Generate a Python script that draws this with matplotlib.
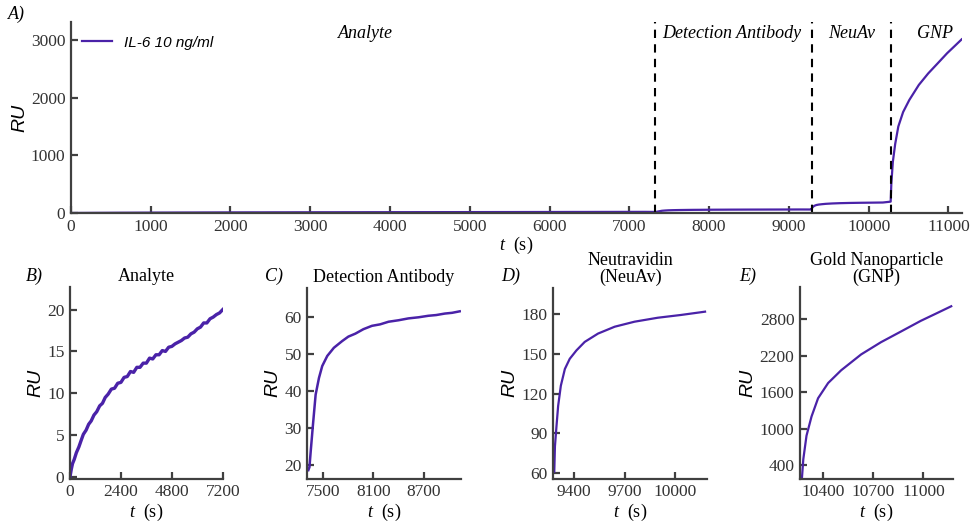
import numpy as np
import matplotlib.pyplot as plt

# Sensorgram segments (t in s, response in RU)
analyte_t = [0, 60, 120, 200, 300, 420, 530, 630, 760, 880, 1000, 1130, 1260, 1400, 1530,
             1660, 1800, 1950, 2100, 2250, 2400, 2550, 2700, 2850, 3000, 3150, 3300, 3450,
             3600, 3750, 3900, 4050, 4200, 4350, 4500, 4650, 4800, 4950, 5100, 5250, 5400,
             5550, 5700, 5850, 6000, 6150, 6300, 6450, 6600, 6750, 6900, 7050, 7200]
analyte_ru = [0.0, 0.9, 1.6, 2.1, 2.9, 3.6, 4.4, 5.1, 5.6, 6.3, 6.7, 7.4, 7.8, 8.5, 8.8,
              9.5, 9.9, 10.5, 10.6, 11.2, 11.3, 11.9, 12.0, 12.6, 12.5, 13.1, 13.1, 13.6,
              13.6, 14.2, 14.1, 14.6, 14.6, 15.1, 15.0, 15.5, 15.6, 15.9, 16.1, 16.3, 16.6,
              16.7, 17.1, 17.3, 17.7, 17.9, 18.4, 18.4, 18.9, 19.1, 19.4, 19.6, 20.0]

detect_t = [7322, 7335, 7350, 7377, 7409, 7449, 7488, 7548, 7627, 7726, 7800, 7884, 7980,
            8082, 8180, 8280, 8400, 8518, 8640, 8755, 8850, 8953, 9040, 9131]
detect_ru = [18.7, 19.5, 23.7, 30.9, 39.0, 43.5, 46.7, 49.4, 51.6, 53.4, 54.6, 55.4, 56.6,
             57.5, 57.9, 58.6, 59.0, 59.5, 59.8, 60.2, 60.4, 60.8, 61.0, 61.4]

neuav_t = [9282, 9286, 9295, 9305, 9321, 9345, 9374, 9414, 9463, 9542, 9641, 9759,
           9897, 10035, 10178]
neuav_ru = [60.8, 80.0, 95.0, 110.6, 125.9, 138.6, 146.3, 152.7, 159.1, 165.4, 170.6,
            174.4, 177.4, 179.5, 182.0]

gnp_t = [10276, 10284, 10303, 10333, 10372, 10432, 10510, 10629, 10747, 10866, 10984,
         11083, 11166]
gnp_ru = [197, 500, 885, 1200, 1500, 1750, 1960, 2220, 2420, 2595, 2770, 2900, 3010]

# injection boundaries and phase labels for panel A
boundaries = [7320, 9290, 10276]
phase_names = ['Analyte', 'Detection Antibody', 'NeuAv', 'GNP']
phase_x = [3690, 8290, 9785, 10830]

line_color = '#4a22a8'
axis_color = '#404040'
serif = 'Liberation Serif'
sans = 'Liberation Sans'

plt.rcParams['font.family'] = serif
plt.rcParams['mathtext.fontset'] = 'custom'
plt.rcParams['mathtext.it'] = 'Liberation Serif:italic'
plt.rcParams['mathtext.rm'] = 'Liberation Serif'
plt.rcParams['axes.edgecolor'] = axis_color
plt.rcParams['axes.linewidth'] = 1.6
plt.rcParams['xtick.color'] = axis_color
plt.rcParams['ytick.color'] = axis_color
plt.rcParams['xtick.labelcolor'] = '#333333'
plt.rcParams['ytick.labelcolor'] = '#333333'

fig = plt.figure(figsize=(9.72, 5.27), dpi=100)


def style_axes(ax, labelsize=12.5):
    for s in ['top', 'right']:
        ax.spines[s].set_visible(False)
    ax.tick_params(direction='in', length=5, width=1.6, labelsize=labelsize, pad=4)
    ax.set_ylabel('RU', family=sans, style='italic', fontsize=14, labelpad=2)


# ---- panel A: full run ----
axA = fig.add_axes([0.0730, 0.5958, 0.9167, 0.3624])
all_t = analyte_t + detect_t + neuav_t + gnp_t
all_ru = analyte_ru + detect_ru + neuav_ru + gnp_ru
axA.plot(all_t, all_ru, color=line_color, lw=1.6, label='IL-6 10 ng/ml')
for b in boundaries:
    axA.axvline(b, color='black', ls=(0, (4, 3)), lw=1.5)
axA.set_xlim(0, 11170)
axA.set_ylim(0, 3310)
axA.set_xticks(np.arange(0, 11001, 1000))
axA.set_yticks([0, 1000, 2000, 3000])
style_axes(axA)
axA.set_xlabel(r'$t$  (s)', fontsize=13, labelpad=0)
for name, x in zip(phase_names, phase_x):
    axA.text(x, 3110, name, style='italic', fontsize=13, ha='center', va='center')
axA.legend(loc='upper left', frameon=False, handlelength=2.0,
           prop={'family': sans, 'style': 'italic', 'size': 11},
           bbox_to_anchor=(0.0, 0.985), borderaxespad=0.3)
fig.text(0.008, 0.973, 'A)', style='italic', fontsize=13, va='center')

# ---- bottom panels ----
panels = [
    ([0.0720, 0.0917, 0.1574, 0.3638], analyte_t, analyte_ru, (0, 7210), (-0.2, 22.7),
     [0, 2400, 4800, 7200], [0, 5, 10, 15, 20], 'Analyte', 'B)', 0.027, 2.4),
    ([0.3162, 0.0917, 0.1578, 0.3620], detect_t, detect_ru, (7310, 9143), (16.4, 67.7),
     [7500, 8100, 8700], [20, 30, 40, 50, 60], 'Detection Antibody', 'C)', 0.273, 1.8),
    ([0.5692, 0.0917, 0.1584, 0.3620], neuav_t, neuav_ru, (9276, 10191), (55.5, 200),
     [9400, 9700, 10000], [60, 90, 120, 150, 180], 'Neutravidin\n(NeuAv)', 'D)', 0.516, 1.6),
    ([0.8230, 0.0917, 0.1577, 0.3630], gnp_t, gnp_ru, (10264, 11178), (180, 3320),
     [10400, 10700, 11000], [400, 1000, 1600, 2200, 2800], 'Gold Nanoparticle\n(GNP)', 'E)', 0.761, 1.6),
]

for rect, t, ru, xl, yl, xt, yt, title, tag, tag_x, lw in panels:
    ax = fig.add_axes(rect)
    ax.plot(t, ru, color=line_color, lw=lw)
    ax.set_xlim(*xl)
    ax.set_ylim(*yl)
    ax.set_xticks(xt)
    ax.set_yticks(yt)
    style_axes(ax)
    ax.set_xlabel(r'$t$  (s)', fontsize=13, labelpad=1)
    ax.set_title(title, fontsize=13, pad=4, linespacing=1.0)
    fig.text(tag_x, 0.476, tag, style='italic', fontsize=13, va='center')

plt.savefig('out.png', dpi=100)
